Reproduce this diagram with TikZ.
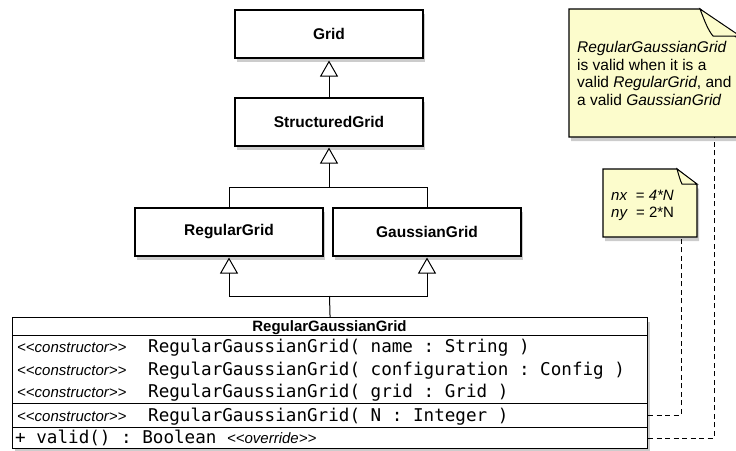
\documentclass[tikz,border=0pt]{standalone}
\usepackage{fontspec}
\setmainfont{Liberation Sans}
\setmonofont{DejaVu Sans Mono}
\usetikzlibrary{arrows.meta,shadows}
\definecolor{notey}{RGB}{252,252,204}
\newcommand\stereotxt[1]{\makebox[131pt][l]{\rmfamily\fontsize{15}{17}\selectfont\itshape<\kern0pt<#1>\kern0pt>}}
\begin{document}
\begin{tikzpicture}[x=1pt,y=-1pt,
  shad/.style={drop shadow={shadow xshift=2pt,shadow yshift=-4pt,fill=black!50,opacity=0.4}},
  cls/.style={draw,line width=1.1pt,fill=white,shad,minimum width=188pt,minimum height=48pt,inner sep=0pt,font=\fontsize{15.5}{18}\selectfont\bfseries},
  gen/.style={line width=1pt,-{Triangle[fill=white,length=16pt,width=18pt,line width=1pt]}},
  conn/.style={line width=1pt},
  rowtxt/.style={anchor=base west,inner sep=0pt,font=\fontsize{17.6}{20}\selectfont\ttfamily},
  notebody/.style={draw,line width=1.1pt,fill=notey,shad},
  notefold/.style={draw,line width=1pt,fill=notey},
  dashline/.style={line width=1pt,dash pattern=on 5pt off 3.5pt}
]
\useasboundingbox (0,0) rectangle (736,450);

% hierarchy boxes
\node[cls] (grid) at (329,34) {Grid};
\node[cls] (structured) at (329,122) {StructuredGrid};
\node[cls] (regular) at (229,232) {RegularGrid};
\node[cls] (gaussian) at (427,232) {GaussianGrid};

% class box
\node[draw,line width=1.1pt,fill=white,shad,anchor=north west,minimum width=635pt,minimum height=131pt,inner sep=0pt] (rgg) at (12,317) {};
\draw[line width=1pt] (12,335) -- (647,335);
\draw[line width=1pt] (12,403) -- (647,403);
\draw[line width=1pt] (12,427) -- (647,427);
\node[anchor=base,inner sep=0pt,font=\fontsize{15}{18}\selectfont\bfseries] (title) at (329.5,331.5) {RegularGaussianGrid};
\node[rowtxt] (c1) at (17,352.5) {\stereotxt{constructor}RegularGaussianGrid( name : String )};
\node[rowtxt] (c2) at (17,375) {\stereotxt{constructor}RegularGaussianGrid( configuration : Config )};
\node[rowtxt] (c3) at (17,397.5) {\stereotxt{constructor}RegularGaussianGrid( grid : Grid )};
\node[rowtxt] (c4) at (17,421) {\stereotxt{constructor}RegularGaussianGrid( N : Integer )};
\node[rowtxt] (v1) at (15,443.5) {+ valid() : Boolean {\rmfamily\fontsize{15}{17}\selectfont\itshape<\kern0pt<override>\kern0pt>}};

% generalisation connectors
\draw[gen,shorten >=2pt] (structured.north) -- (grid.south);
\coordinate (j1) at (329,187);
\draw[conn] (regular.north) |- (j1);
\draw[conn] (gaussian.north) |- (j1);
\draw[gen,shorten >=1pt] (j1) -- (structured.south);
\coordinate (j2) at (329.5,296);
\draw[conn] (rgg.north) -- (j2);
\draw[gen,shorten >=1pt] (j2) -| (regular.south);
\draw[gen,shorten >=1pt] (j2) -| (gaussian.south);

% big note
\node[minimum width=171pt,minimum height=128pt,anchor=north west,inner sep=0pt] (bignote) at (569,9) {};
\path[notebody] (569,9) -- (700,9) -- (740,40) -- (740,137) -- (569,137) -- cycle;
\draw[notefold] (700,9) .. controls (705,22) and (708,30) .. (713,36) -- (740,36) -- cycle;
\node[anchor=north west,align=left,inner sep=0pt,font=\fontsize{15.5}{17.6}\selectfont] (bigtxt) at (577,41) {\textit{RegularGaussianGrid}\\is valid when it is a\\valid \textit{RegularGrid}, and\\a valid \textit{GaussianGrid}};

% small note
\node[minimum width=94pt,minimum height=68pt,anchor=north west,inner sep=0pt] (smallnote) at (603,169) {};
\path[notebody] (603,169) -- (677,169) -- (697,185) -- (697,237) -- (603,237) -- cycle;
\draw[notefold] (677,169) .. controls (679,176) and (680,180) .. (682,184) -- (697,184) -- cycle;
\node[anchor=north west,align=left,inner sep=0pt,font=\fontsize{15}{17}\selectfont] (smalltxt) at (611,189.5) {\textit{nx}\ \ = \textit{4*N}\\\textit{ny}\ \ = 2*N};

% dashed note links
\coordinate (k1) at (681,415);
\coordinate (k2) at (714,438);
\draw[dashline] (rgg.east |- k1) -- (k1) -- (k1 |- smallnote.south);
\draw[dashline] (rgg.east |- k2) -- (k2) -- (k2 |- bignote.south);
\end{tikzpicture}
\end{document}
